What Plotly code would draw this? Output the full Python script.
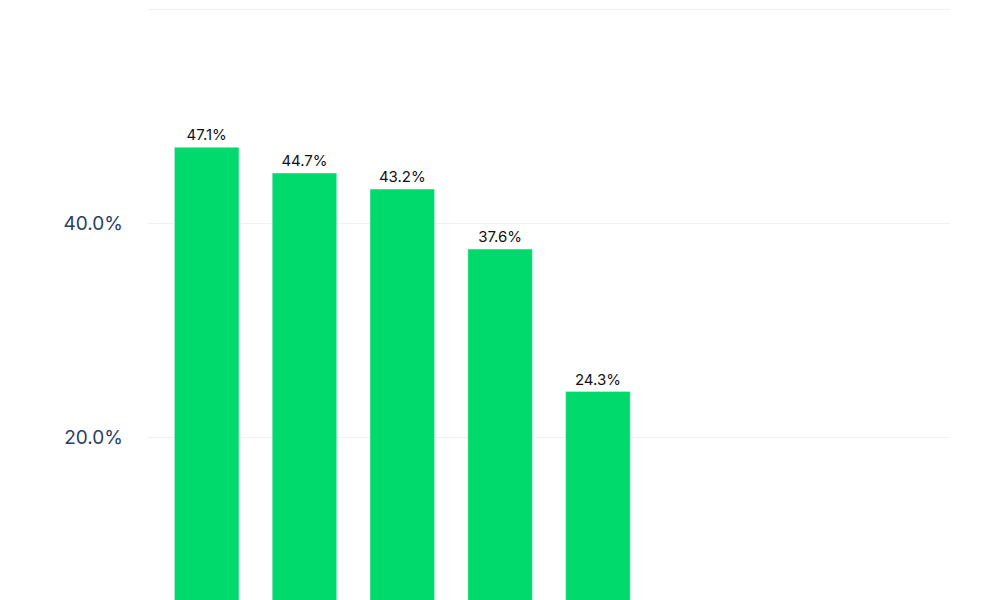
import plotly.graph_objects as go

categories = ["Item 1", "Item 2", "Item 3", "Item 4", "Item 5"]
values = [47.1, 44.7, 43.2, 37.6, 24.3]
labels = [f"{v:.1f}%" for v in values]
tick_vals = [20, 40, 60]
tick_text = ["20.0%", "40.0%", "60.0%"]

fig = go.Figure(go.Bar(
    x=list(range(len(categories))), y=values, width=0.66,
    marker_color="#00d96b", text=labels, textposition="outside",
    textfont=dict(size=15, color="#111111", family="Inter"),
    cliponaxis=False, hovertext=categories,
))
fig.update_layout(
    width=1000, height=600, margin=dict(l=140, r=58, t=0, b=0),
    plot_bgcolor="white", paper_bgcolor="white", showlegend=False,
    font=dict(family="Inter"),
)
fig.update_xaxes(range=[-0.6, 7.6], showticklabels=False, showgrid=False, zeroline=False)
fig.update_yaxes(range=[4.1, 60.1], tickvals=tick_vals, ticktext=tick_text,
                 gridcolor="#f0f0f0", zeroline=False, ticks="", ticklen=0,
                 tickfont=dict(size=19, color="#2a3f5f"), ticklabelstandoff=24)
fig.write_html("out.html")
